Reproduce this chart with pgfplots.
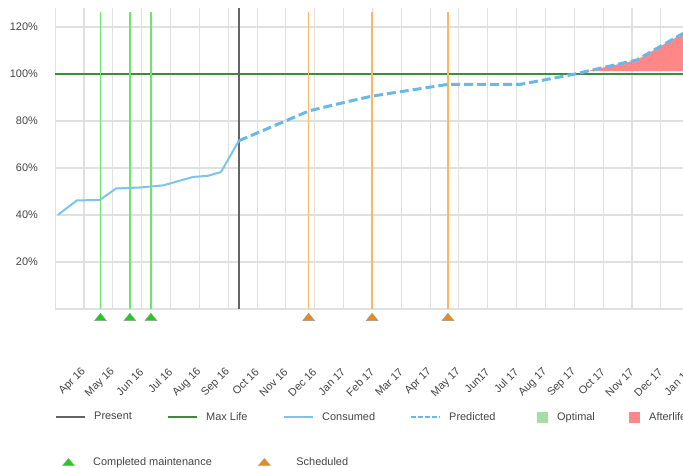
\documentclass[11pt,border=0pt]{standalone}
\usepackage{fontspec}
\setmainfont{Liberation Sans}
\usepackage{pgfplots}
\pgfplotsset{compat=1.18}
\definecolor{gridc}{RGB}{224,224,224}
\definecolor{consc}{RGB}{125,195,235}
\definecolor{predc}{RGB}{105,185,232}
\definecolor{maxc}{RGB}{60,140,60}
\definecolor{presc}{RGB}{100,100,100}
\definecolor{mgreen}{RGB}{105,232,105}
\definecolor{morange}{RGB}{255,182,100}
\definecolor{tgreen}{RGB}{30,205,30}
\definecolor{torange}{RGB}{232,140,30}
\definecolor{afterc}{RGB}{255,135,135}
\definecolor{optc}{RGB}{165,222,165}
\definecolor{textc}{RGB}{68,68,68}
\begin{document}
\begin{tikzpicture}
\useasboundingbox (-55.2pt,-159pt) rectangle (627.8pt,309pt);
\clip (-55.2pt,-159pt) rectangle (627.8pt,309pt);
\begin{axis}[
  at={(0pt,0pt)}, anchor=south west,
  scale only axis, width=640.2pt, height=301pt,
  xmin=-1, xmax=21.2, ymin=0, ymax=128.1,
  clip=false,
  axis line style={draw=none},
  major tick length=0pt,
  xtick={-1,0,1,2,3,4,5,6,7,8,9,10,11,12,13,14,15,16,17,18,19,20,21},
  xticklabels={,Apr 16,May 16,Jun 16,Jul 16,Aug 16,Sep 16,Oct 16,Nov 16,Dec 16,Jan 17,Feb 17,Mar 17,Apr 17,May 17,Jun17,Jul 17,Aug 17,Sep 17,Oct 17,Nov 17,Dec 17,Jan 17},
  ytick={0,20,40,60,80,100,120},
  yticklabels={,20\%,40\%,60\%,80\%,100\%,120\%},
  grid=major, grid style={gridc, line width=1.1pt},
  tick label style={text=textc},
  xticklabel style={rotate=45, anchor=east, inner sep=0pt},
  xticklabel shift=61pt,
  yticklabel shift=13.5pt,
  legend columns=6,
  legend cell align=left,
  legend style={draw=none, fill=none, inner sep=0pt, outer sep=0pt,
    at={(0,0)}, anchor=west, yshift=-108pt, text=textc,
    nodes={inner sep=0pt},
    /tikz/column sep=0pt,
    /tikz/every odd column/.append style={column sep=8pt}},
]
% Afterlife area
\addplot[forget plot, draw=none, fill=afterc] coordinates {(17.44,101.2) (19.17,106) (20.77,117.3) (20.77,101.2)};
% Max life
\addplot[forget plot, maxc, line width=2.5pt] coordinates {(-1,100) (21.2,100)};
% completed maintenance lines
\addplot[forget plot, draw=mgreen, line width=1.5pt] coordinates {(0.57,0) (0.57,126.4)};
\addplot[forget plot, draw=mgreen, line width=1.5pt] coordinates {(1.59,0) (1.59,126.4)};
\addplot[forget plot, draw=mgreen, line width=1.5pt] coordinates {(2.32,0) (2.32,126.4)};
% scheduled lines
\addplot[forget plot, draw=morange, line width=1.3pt] coordinates {(7.79,0) (7.79,126.4)};
\addplot[forget plot, draw=morange, line width=1.3pt] coordinates {(9.99,0) (9.99,126.4)};
\addplot[forget plot, draw=morange, line width=1.3pt] coordinates {(12.62,0) (12.62,126.4)};
% present
\addplot[forget plot, presc, line width=2pt] coordinates {(5.37,0) (5.37,128.1)};
% consumed
\addplot[forget plot, consc, line width=2pt, line join=round] coordinates {
 (-0.90,40.1) (-0.25,46.2) (0.55,46.4) (1.11,51.3) (1.94,51.7) (2.74,52.6)
 (3.78,56.2) (4.30,56.7) (4.75,58.3) (5.37,71.6)};
% predicted
\addplot[forget plot, predc, line width=3pt, dash pattern=on 9pt off 4pt, line join=round] coordinates {
 (5.37,71.6) (7.00,80.1) (7.80,84.3) (8.98,87.8) (9.99,90.6) (12.62,95.6)
 (15.12,95.6) (16.05,97.7) (17.02,100) (19.17,106) (20.77,117.3)};
% triangles
\addplot[forget plot, only marks, mark=triangle*, mark size=6.9pt,
  mark options={fill=tgreen, draw=gray!80, line width=0.4pt, yscale=0.72}]
  coordinates {(0.57,-3.9) (1.59,-3.9) (2.32,-3.9)};
\addplot[forget plot, only marks, mark=triangle*, mark size=6.9pt,
  mark options={fill=torange, draw=gray!80, line width=0.4pt, yscale=0.72}]
  coordinates {(7.79,-3.9) (9.99,-3.9) (12.62,-3.9)};
% legend row 1
\addlegendimage{legend image code/.code={\draw[presc, line width=2pt] (0pt,0pt) -- (29pt,0pt);}}
\addlegendentry{\makebox[73pt][l]{Present}}
\addlegendimage{legend image code/.code={\draw[maxc, line width=2pt] (0pt,0pt) -- (29pt,0pt);}}
\addlegendentry{\makebox[77pt][l]{Max Life}}
\addlegendimage{legend image code/.code={\draw[consc, line width=2pt] (0pt,0pt) -- (29pt,0pt);}}
\addlegendentry{\makebox[88pt][l]{Consumed}}
\addlegendimage{legend image code/.code={\draw[predc, line width=2pt, dash pattern=on 5pt off 2pt] (0pt,0pt) -- (29pt,0pt);}}
\addlegendentry{\makebox[71pt][l]{Predicted}}
\addlegendimage{legend image code/.code={\path[draw=none,fill=none] (0pt,-5pt) rectangle (29pt,5pt); \fill[optc] (17pt,-5pt) rectangle (27pt,5pt);}}
\addlegendentry{\makebox[55pt][l]{Optimal}}
\addlegendimage{legend image code/.code={\path[draw=none,fill=none] (0pt,-5pt) rectangle (29pt,5pt); \fill[afterc] (17pt,-5pt) rectangle (27pt,5pt);}}
\addlegendentry{Afterlife}
\end{axis}
\begin{axis}[
  at={(0pt,0pt)}, anchor=south west,
  scale only axis, width=640.2pt, height=301pt,
  xmin=-1, xmax=21.2, ymin=0, ymax=128.1,
  hide axis,
  legend columns=2,
  legend cell align=left,
  legend style={draw=none, fill=none, inner sep=0pt, outer sep=0pt,
    at={(0,0)}, anchor=west, yshift=-153pt, text=textc,
    nodes={inner sep=0pt},
    /tikz/column sep=0pt,
    /tikz/every odd column/.append style={column sep=9pt}},
]
\addlegendimage{legend image code/.code={\path[draw=none,fill=none] (0pt,-5pt) rectangle (29pt,5pt); \filldraw[fill=tgreen, draw=gray!80, line width=0.4pt] (7.3pt,-3.5pt) -- (19.3pt,-3.5pt) -- (13.3pt,3.5pt) -- cycle;}}
\addlegendentry{\makebox[165pt][l]{Completed maintenance}}
\addlegendimage{legend image code/.code={\path[draw=none,fill=none] (0pt,-5pt) rectangle (29pt,5pt); \filldraw[fill=torange, draw=gray!80, line width=0.4pt] (0pt,-3.5pt) -- (12pt,-3.5pt) -- (6pt,3.5pt) -- cycle;}}
\addlegendentry{Scheduled}
\end{axis}
\end{tikzpicture}
\end{document}
